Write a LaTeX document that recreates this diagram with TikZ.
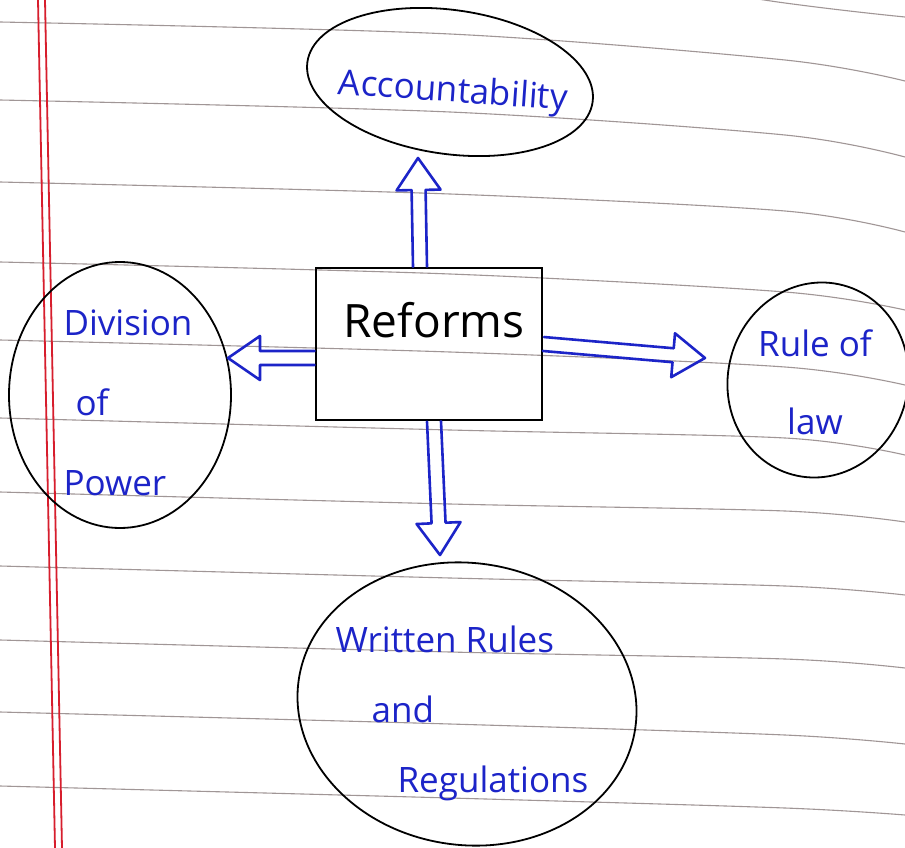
\documentclass[tikz,border=0pt]{standalone}
\usepackage{fontspec}
\setmainfont{Open Sans}
\usetikzlibrary{shapes.geometric,calc}
\definecolor{ink}{RGB}{28,36,200}
\definecolor{paperline}{RGB}{160,150,150}
\definecolor{marginred}{RGB}{215,30,45}
\newcommand{\hollowarr}[2]{%
  \path (#1) coordinate (ha-s) (#2) coordinate (ha-t);
  \path ($(ha-t)!32pt!(ha-s)$) coordinate (ha-b);
  \draw[arrowline] ($(ha-s)!7pt!90:(ha-t)$) -- ($(ha-b)!7pt!-90:(ha-s)$)
    -- ($(ha-b)!22pt!-90:(ha-s)$) -- (ha-t) -- ($(ha-b)!22pt!90:(ha-s)$)
    -- ($(ha-b)!7pt!90:(ha-s)$) -- ($(ha-s)!7pt!-90:(ha-t)$);
}
\tikzset{
  arrowline/.style={draw=ink, line width=2.6pt, line join=round, line cap=round},
  bubble/.style={ellipse, draw=black, line width=1.8pt, inner sep=0pt},
  bluetext/.style={text=ink, font=\fontsize{35}{74}\selectfont, inner sep=0pt},
  ruled/.style={draw=paperline, line width=1.1pt},
  marginline/.style={draw=marginred, line width=1.8pt}
}
\begin{document}
\begin{tikzpicture}[x=1pt,y=-1pt]
\useasboundingbox (0,0) rectangle (905,848);
\clip (0,0) rectangle (905,848);
\fill[white] (0,0) rectangle (905,848);
% ruled paper
\foreach \a/\b/\c in {-56/3/17, 22/60/81, 100/135/157, 182/211/232, 262/292/310, 340/367/385, 418/438/455, 492/511/522, 566/586/595, 640/659/668, 712/735/744, 786/808/815}{
  \draw[ruled] plot[smooth] coordinates {(0,\a) (450,\a+12) (785,\b) (905,\c)};
}
\draw[marginline] (38,0) -- (55,848);
\draw[marginline] (45,0) -- (62,848);
% central box
\node[draw=black, line width=2.8pt, minimum width=226pt, minimum height=152pt, inner sep=0pt] (box) at (429,344) {};
\node[font=\fontsize{46}{50}\selectfont, inner sep=0pt] (reforms) at (434,320) {Reforms};
% ellipses
\node[bubble, minimum width=288pt, minimum height=144pt, rotate=-8] (acc) at (450,82) {};
\node[bluetext, rotate=-4] (acctext) at (453,93) {Accountability};
\node[bubble, minimum width=222pt, minimum height=266pt] (div) at (120,395) {};
\node[bluetext, align=left, font=\fontsize{35}{80}\selectfont] (divtext) at (128,403) {Division\\\hspace*{12pt}of\\Power};
\node[bubble, minimum width=180pt, minimum height=196pt, rotate=-15] (rule) at (818,380) {};
\node[bluetext, align=center, font=\fontsize{35}{78}\selectfont] (ruletext) at (815,382) {Rule of\\law};
\node[bubble, minimum width=340pt, minimum height=282pt, rotate=-8] (wr) at (467,704) {};
\node[bluetext, align=left, font=\fontsize{35}{70}\selectfont] (wrtext) at (462,713) {Written Rules\\\hspace*{36pt}and\\\hspace*{62pt}Regulations};
% arrow tips
\coordinate (tipU) at (418,158);
\coordinate (tipL) at (228,358);
\coordinate (tipR) at (705,358);
\coordinate (tipD) at (440,555);
\hollowarr{$(box.north)+(-9,0)$}{tipU}
\hollowarr{$(box.west)+(0,14)$}{tipL}
\hollowarr{$(box.east)+(0,0)$}{tipR}
\hollowarr{$(box.south)+(5,0)$}{tipD}
\end{tikzpicture}
\end{document}
